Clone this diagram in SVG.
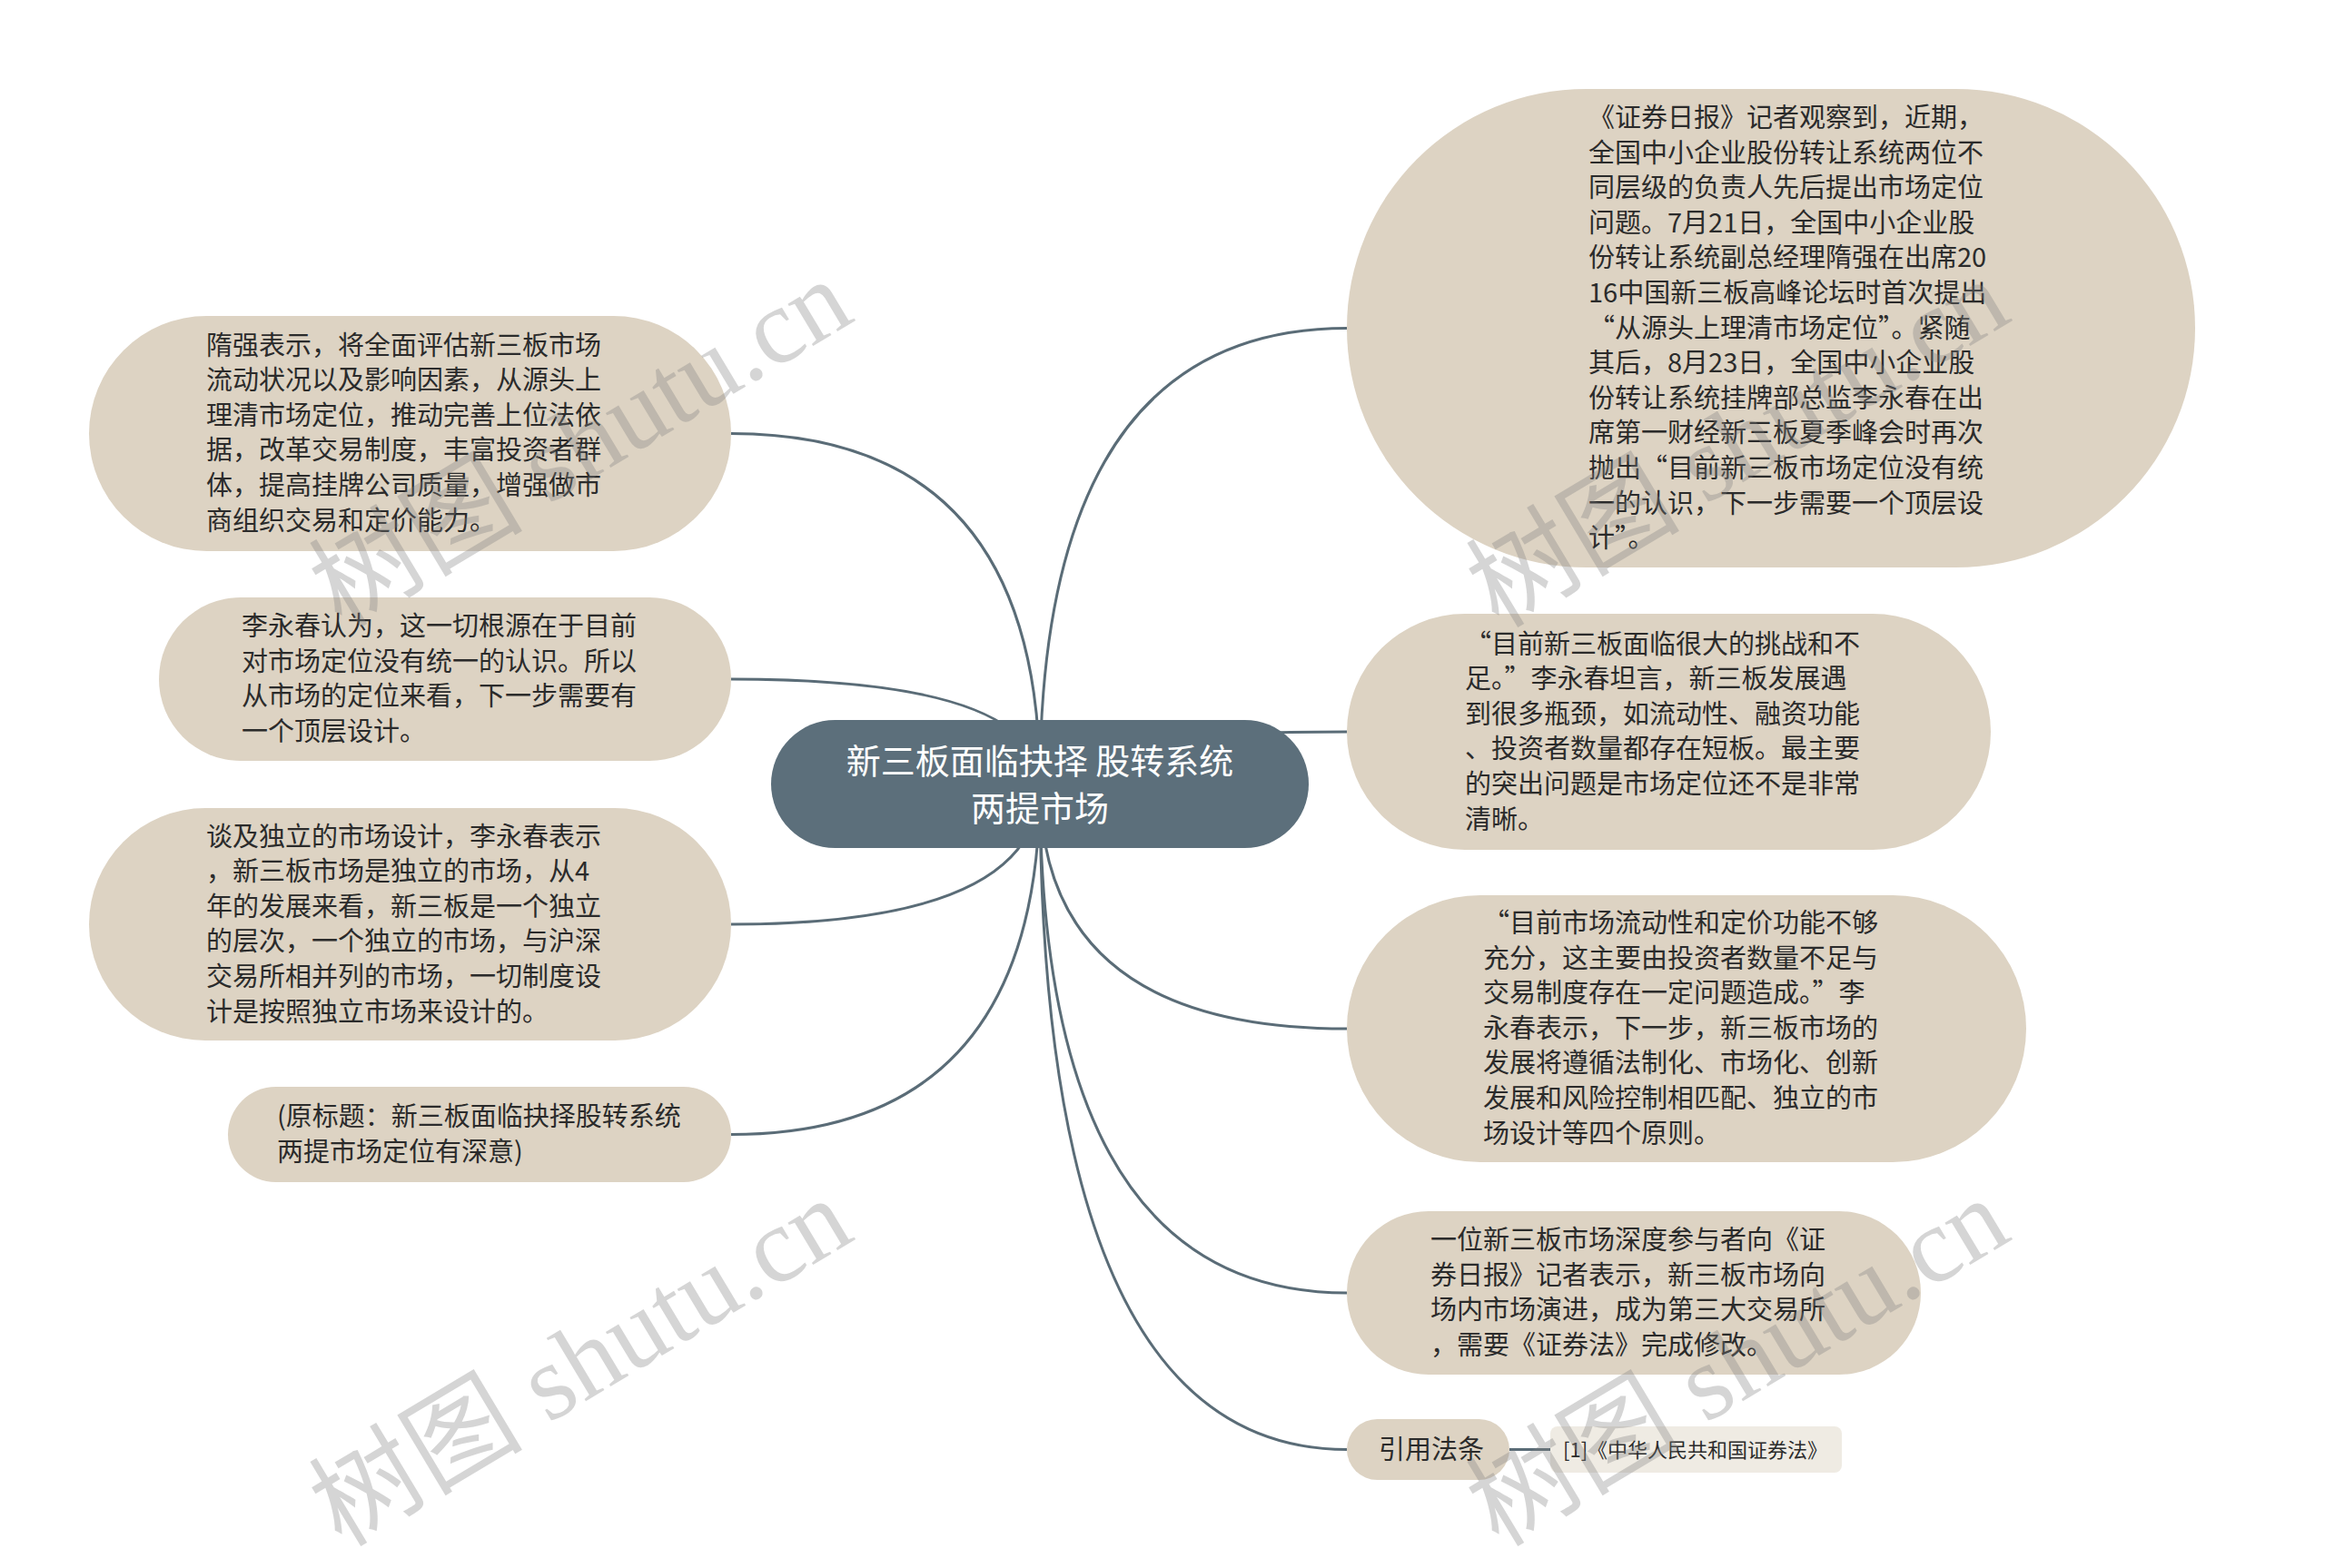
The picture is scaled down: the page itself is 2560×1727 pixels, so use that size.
<svg xmlns="http://www.w3.org/2000/svg" width="2560" height="1727" viewBox="0 0 2560 1727">
<style>
.bg{fill:#ffffff}
.node{fill:#ddd3c3}
.root{fill:#5c6f7b}
.child{fill:#efebe3}
.t{font-family:"Noto Sans CJK SC","Microsoft YaHei",sans-serif;font-size:29px;fill:#2b2b2b}
.rt{font-family:"Noto Sans CJK SC","Microsoft YaHei",sans-serif;font-size:38px;fill:#ffffff;text-anchor:middle}
.ct{font-family:"Noto Sans CJK SC","Microsoft YaHei",sans-serif;font-size:22px;fill:#2b2b2b}
.edge{fill:none;stroke:#5a6c77;stroke-width:3}
.wm{font-family:"Liberation Serif","Noto Sans CJK SC",serif;font-size:118px;fill:#808080;fill-opacity:0.33}
</style>
<rect class="bg" x="0" y="0" width="2560" height="1727"/>
<g id="connectors">
<path class="edge" d="M1145 864 Q1145 477.5 805 477.5"/>
<path class="edge" d="M1145 864 Q1145 748 805 748"/>
<path class="edge" d="M1145 864 Q1145 1018 805 1018"/>
<path class="edge" d="M1145 864 Q1145 1249.5 805 1249.5"/>
<path class="edge" d="M1145 864 Q1145 361.5 1483 361.5"/>
<path class="edge" d="M1145 864 Q1145 806 1483 806"/>
<path class="edge" d="M1145 864 Q1145 1133 1483 1133"/>
<path class="edge" d="M1145 864 Q1145 1424 1483 1424"/>
<path class="edge" d="M1145 864 Q1145 1596.5 1483 1596.5"/>
<path class="edge" d="M1662 1596.5 L1707 1596.5"/>
</g>
<g id="root">
<rect class="root" x="849" y="793" width="592" height="141" rx="70.5"/>
<text class="rt"><tspan x="1145" y="851.5">新三板面临抉择 股转系统</tspan><tspan x="1145" y="903.5">两提市场</tspan></text>
</g>
<g id="n-left1">
<rect class="node" x="98" y="348" width="707" height="259" rx="129.5"/>
<text class="t"><tspan x="227" y="390.5">隋强表示，将全面评估新三板市场</tspan><tspan x="227" y="429.1">流动状况以及影响因素，从源头上</tspan><tspan x="227" y="467.7">理清市场定位，推动完善上位法依</tspan><tspan x="227" y="506.3">据，改革交易制度，丰富投资者群</tspan><tspan x="227" y="544.9">体，提高挂牌公司质量，增强做市</tspan><tspan x="227" y="583.5">商组织交易和定价能力。</tspan></text>
</g>
<g id="n-left2">
<rect class="node" x="175" y="658" width="630" height="180" rx="90"/>
<text class="t"><tspan x="266" y="700">李永春认为，这一切根源在于目前</tspan><tspan x="266" y="738.6">对市场定位没有统一的认识。所以</tspan><tspan x="266" y="777.2">从市场的定位来看，下一步需要有</tspan><tspan x="266" y="815.8">一个顶层设计。</tspan></text>
</g>
<g id="n-left3">
<rect class="node" x="98" y="890" width="707" height="256" rx="128"/>
<text class="t"><tspan x="227" y="931.5">谈及独立的市场设计，李永春表示</tspan><tspan x="227" y="970.1">，新三板市场是独立的市场，从4</tspan><tspan x="227" y="1008.7">年的发展来看，新三板是一个独立</tspan><tspan x="227" y="1047.3">的层次，一个独立的市场，与沪深</tspan><tspan x="227" y="1085.9">交易所相并列的市场，一切制度设</tspan><tspan x="227" y="1124.5">计是按照独立市场来设计的。</tspan></text>
</g>
<g id="n-left4">
<rect class="node" x="251" y="1197" width="554" height="105" rx="52.5"/>
<text class="t"><tspan x="305" y="1240">(原标题：新三板面临抉择股转系统</tspan><tspan x="305" y="1278.6">两提市场定位有深意)</tspan></text>
</g>
<g id="n-right1">
<rect class="node" x="1483" y="98" width="934" height="527" rx="263.5"/>
<text class="t"><tspan x="1749" y="140">《证券日报》记者观察到，近期，</tspan><tspan x="1749" y="178.6">全国中小企业股份转让系统两位不</tspan><tspan x="1749" y="217.2">同层级的负责人先后提出市场定位</tspan><tspan x="1749" y="255.8">问题。7月21日，全国中小企业股</tspan><tspan x="1749" y="294.4">份转让系统副总经理隋强在出席20</tspan><tspan x="1749" y="333">16中国新三板高峰论坛时首次提出</tspan><tspan x="1749" y="371.6">“从源头上理清市场定位”。紧随</tspan><tspan x="1749" y="410.2">其后，8月23日，全国中小企业股</tspan><tspan x="1749" y="448.8">份转让系统挂牌部总监李永春在出</tspan><tspan x="1749" y="487.4">席第一财经新三板夏季峰会时再次</tspan><tspan x="1749" y="526">抛出“目前新三板市场定位没有统</tspan><tspan x="1749" y="564.6">一的认识，下一步需要一个顶层设</tspan><tspan x="1749" y="603.2">计”。</tspan></text>
</g>
<g id="n-right2">
<rect class="node" x="1483" y="676" width="709" height="260" rx="130"/>
<text class="t"><tspan x="1613" y="719.5">“目前新三板面临很大的挑战和不</tspan><tspan x="1613" y="758.1">足。”李永春坦言，新三板发展遇</tspan><tspan x="1613" y="796.7">到很多瓶颈，如流动性、融资功能</tspan><tspan x="1613" y="835.3">、投资者数量都存在短板。最主要</tspan><tspan x="1613" y="873.9">的突出问题是市场定位还不是非常</tspan><tspan x="1613" y="912.5">清晰。</tspan></text>
</g>
<g id="n-right3">
<rect class="node" x="1483" y="986" width="748" height="294" rx="147"/>
<text class="t"><tspan x="1633" y="1027">“目前市场流动性和定价功能不够</tspan><tspan x="1633" y="1065.6">充分，这主要由投资者数量不足与</tspan><tspan x="1633" y="1104.2">交易制度存在一定问题造成。”李</tspan><tspan x="1633" y="1142.8">永春表示，下一步，新三板市场的</tspan><tspan x="1633" y="1181.4">发展将遵循法制化、市场化、创新</tspan><tspan x="1633" y="1220">发展和风险控制相匹配、独立的市</tspan><tspan x="1633" y="1258.6">场设计等四个原则。</tspan></text>
</g>
<g id="n-right4">
<rect class="node" x="1483" y="1334" width="632" height="180" rx="90"/>
<text class="t"><tspan x="1575" y="1376">一位新三板市场深度参与者向《证</tspan><tspan x="1575" y="1414.6">券日报》记者表示，新三板市场向</tspan><tspan x="1575" y="1453.2">场内市场演进，成为第三大交易所</tspan><tspan x="1575" y="1491.8">，需要《证券法》完成修改。</tspan></text>
</g>
<g id="n-law">
<rect class="node" x="1483" y="1563" width="179" height="67" rx="33.5"/>
<text class="t" x="1518" y="1606.5">引用法条</text>
</g>
<g id="n-law-child">
<rect class="child" x="1707" y="1571" width="321" height="51" rx="8"/>
<text class="ct" x="1721" y="1604.5">[1]《中华人民共和国证券法》</text>
</g>
<g id="watermarks">
<text class="wm" transform="translate(376 693) rotate(-31)">树图 shutu.cn</text>
<text class="wm" transform="translate(1650 693) rotate(-31)">树图 shutu.cn</text>
<text class="wm" transform="translate(376 1705) rotate(-31)">树图 shutu.cn</text>
<text class="wm" transform="translate(1650 1705) rotate(-31)">树图 shutu.cn</text>
</g>
</svg>
